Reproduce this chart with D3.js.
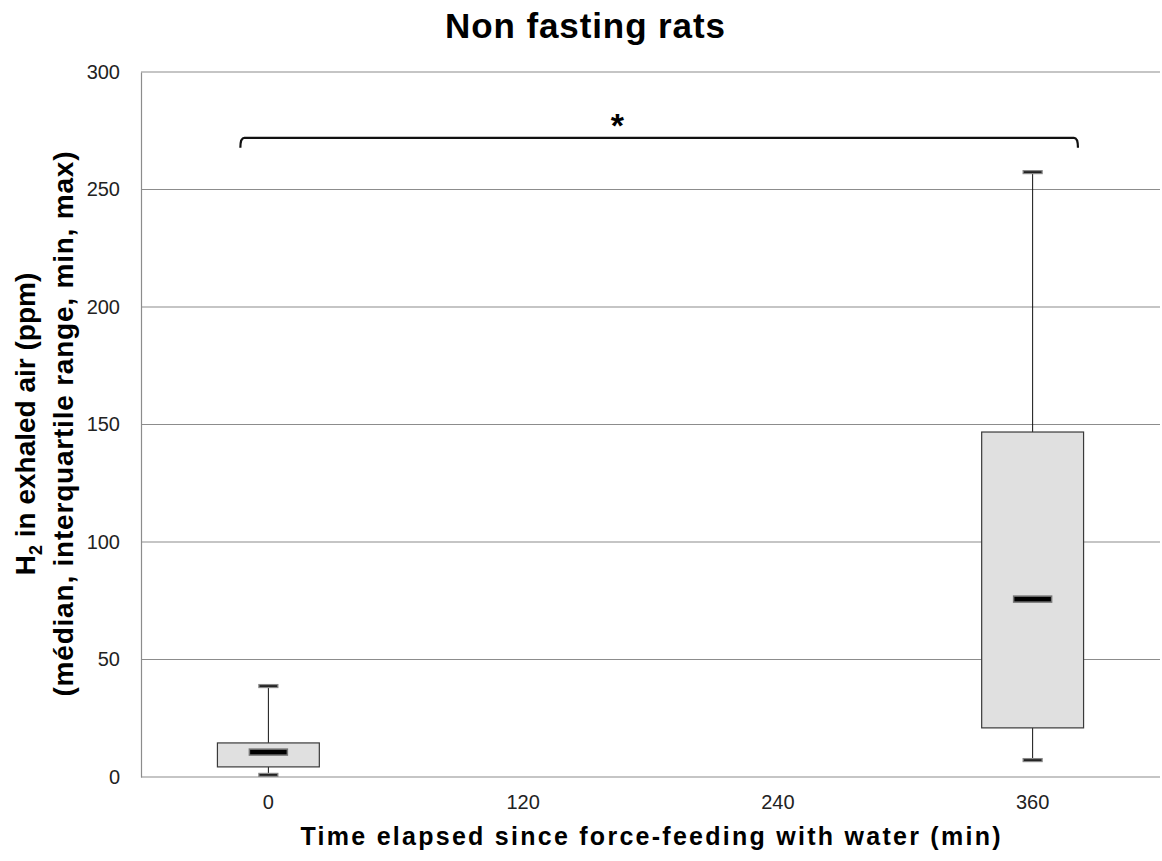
<!DOCTYPE html>
<html>
<head>
<meta charset="utf-8">
<script src="https://cdn.jsdelivr.net/npm/d3@7"></script>
<style>
  body { margin: 0; background: #fff; }
  text { font-family: "Liberation Sans", Arial, sans-serif; }
</style>
</head>
<body>
<div id="chart"></div>
<script>
// data
const categories = ["0", "120", "240", "360"]
const boxCats = ["0", "360"]
const mins = [0.9, 7.2]
const q1s = [4.3, 20.9]
const medians = [10.6, 75.7]
const q3s = [14.5, 146.8]
const maxs = [38.7, 257.4]
const yTicks = [0, 50, 100, 150, 200, 250, 300]
const signifPair = ["0", "360"]
const signifLevel = 272

const width = 1162
const height = 861
const margin = { top: 72, right: 2, bottom: 84, left: 141 }

const svg = d3.select("#chart")
    .append("svg")
    .attr("width", width)
    .attr("height", height)

//scales
const x = d3.scaleBand()
    .domain(categories)
    .range([margin.left, width - margin.right])

const y = d3.scaleLinear()
    .domain([0, 300])
    .range([height - margin.bottom, margin.top])

const bw = x.bandwidth()

//gridlines
svg.append("g")
    .selectAll("line")
    .data(yTicks)
    .join("line")
    .attr("x1", margin.left)
    .attr("x2", width - margin.right)
    .attr("y1", d => y(d))
    .attr("y2", d => y(d))
    .attr("stroke", "#8c8c8c")
    .attr("stroke-width", 1.2)

//y axis
const yAxis = svg.append("g")
    .attr("transform", `translate(${margin.left},0)`)
    .call(d3.axisLeft(y).tickValues(yTicks).tickSize(0).tickPadding(21))
yAxis.select(".domain").attr("stroke", "#8c8c8c").attr("stroke-width", 1.2)
yAxis.selectAll("text")
    .style("font-size", "20px")
    .attr("fill", "#222")

//x axis
const xAxis = svg.append("g")
    .attr("transform", `translate(0,${height - margin.bottom})`)
    .call(d3.axisBottom(x).tickSize(0).tickPadding(18))
xAxis.select(".domain").remove()
xAxis.selectAll("text")
    .style("font-size", "20px")
    .attr("fill", "#222")

//box data table
const boxes = boxCats.map((c, i) => ({
    cat: c, min: mins[i], q1: q1s[i], med: medians[i], q3: q3s[i], max: maxs[i]
}))

const boxW = bw * 0.4
const g = svg.append("g")

//whiskers
g.selectAll(".whisker-up")
    .data(boxes)
    .join("line")
    .attr("x1", d => x(d.cat) + bw / 2)
    .attr("x2", d => x(d.cat) + bw / 2)
    .attr("y1", d => y(d.q3))
    .attr("y2", d => y(d.max))
    .attr("stroke", "#111")
    .attr("stroke-width", 1)

g.selectAll(".whisker-down")
    .data(boxes)
    .join("line")
    .attr("x1", d => x(d.cat) + bw / 2)
    .attr("x2", d => x(d.cat) + bw / 2)
    .attr("y1", d => y(d.q1))
    .attr("y2", d => y(d.min))
    .attr("stroke", "#111")
    .attr("stroke-width", 1)

//boxes
g.selectAll(".box")
    .data(boxes)
    .join("rect")
    .attr("x", d => x(d.cat) + bw / 2 - boxW / 2)
    .attr("width", boxW)
    .attr("y", d => y(d.q3))
    .attr("height", d => y(d.q1) - y(d.q3))
    .attr("fill", "#e0e0e0")
    .attr("stroke", "#3a3a3a")
    .attr("stroke-width", 1.2)

//caps min & max
const capW = 19
const caps = boxes.flatMap(d => [{ cat: d.cat, v: d.min }, { cat: d.cat, v: d.max }])
g.selectAll(".cap")
    .data(caps)
    .join("rect")
    .attr("x", d => x(d.cat) + bw / 2 - capW / 2)
    .attr("width", capW)
    .attr("y", d => y(d.v) - 1.5)
    .attr("height", 3)
    .attr("fill", "#222")
    .attr("stroke", "#888")
    .attr("stroke-width", 1.2)

//medians
const medW = 38
g.selectAll(".median")
    .data(boxes)
    .join("rect")
    .attr("x", d => x(d.cat) + bw / 2 - medW / 2)
    .attr("width", medW)
    .attr("y", d => y(d.med) - 3)
    .attr("height", 6)
    .attr("fill", "#000")
    .attr("stroke", "#777")
    .attr("stroke-width", 1.5)

//significance bracket
const bx1 = x(signifPair[0]) + bw * 0.39
const bx2 = x(signifPair[1]) + bw * 0.678
const by = y(signifLevel)
svg.append("path")
    .attr("d", `M${bx1},${by + 10} Q${bx1},${by} ${bx1 + 4},${by} L${bx2 - 4},${by} Q${bx2},${by} ${bx2},${by + 10}`)
    .attr("fill", "none")
    .attr("stroke", "#111")
    .attr("stroke-width", 2.2)

svg.append("text")
    .attr("x", bx1 + (bx2 - bx1) * 0.45)
    .attr("y", by - 1)
    .attr("text-anchor", "middle")
    .style("font-size", "34px")
    .style("font-weight", "bold")
    .text("*")

//title
svg.append("text")
    .attr("x", 585)
    .attr("y", 38)
    .attr("text-anchor", "middle")
    .style("font-size", "35px")
    .style("font-weight", "bold")
    .attr("textLength", 280)
    .text("Non fasting rats")

//x title
svg.append("text")
    .attr("x", (margin.left + width - margin.right) / 2)
    .attr("y", 845)
    .attr("text-anchor", "middle")
    .style("font-size", "25px")
    .style("font-weight", "bold")
    .attr("textLength", 700)
    .text("Time elapsed since force-feeding with water (min)")

//y title (two lines)
const yt = svg.append("g")
    .attr("transform", "translate(35,424) rotate(-90)")
const line1 = yt.append("text")
    .attr("x", 0)
    .attr("y", 0)
    .attr("text-anchor", "middle")
    .style("font-size", "28px")
    .style("font-weight", "bold")
line1.append("tspan").text("H")
line1.append("tspan").attr("dy", 7).style("font-size", "18px").text("2")
line1.append("tspan").attr("dy", -7).text(" in exhaled air (ppm)")

yt.append("text")
    .attr("x", 0)
    .attr("y", 38)
    .attr("text-anchor", "middle")
    .style("font-size", "28px")
    .style("font-weight", "bold")
    .attr("textLength", 545)
    .text("(médian, interquartile range, min, max)")
</script>
</body>
</html>
